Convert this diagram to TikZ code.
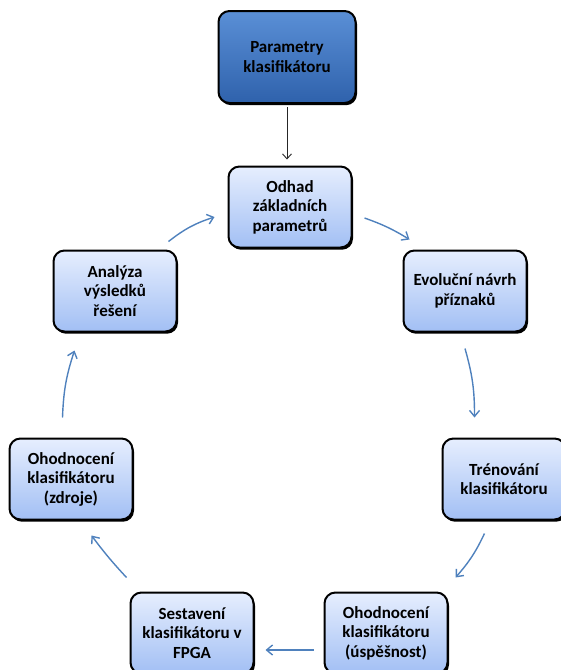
\documentclass[tikz,border=0pt]{standalone}
\usepackage{fontspec}
\setmainfont{Carlito}
\usetikzlibrary{shadows,arrows.meta}
\definecolor{boxtop}{HTML}{E6EEFE}
\definecolor{boxbot}{HTML}{A2BFF4}
\definecolor{darktop}{HTML}{5A8FD6}
\definecolor{darkbot}{HTML}{2F62AC}
\definecolor{flowblue}{HTML}{4F81BD}
\tikzset{
  stepbox/.style={draw=black, line width=2pt, rounded corners=11pt,
    minimum width=123pt, minimum height=81pt, align=center,
    top color=boxtop, bottom color=boxbot,
    general shadow={fill=black, shadow xshift=1.5pt, shadow yshift=-2.2pt},
    font=\fontsize{17pt}{19.5pt}\selectfont\bfseries, inner sep=2pt},
  headbox/.style={stepbox, minimum width=137pt, minimum height=92pt,
    top color=darktop, bottom color=darkbot},
  flow/.style={draw=flowblue, line width=1.4pt, -{Straight Barb[length=6pt,width=10pt]}},
  feed/.style={draw=black!85, line width=0.9pt, -{Straight Barb[length=5pt,width=9pt]}}
}
\begin{document}
\begin{tikzpicture}[x=1pt,y=-1pt]
\useasboundingbox (0,0) rectangle (561,670);
\node[headbox] (par) at (287,57) {Parametry\\klasifikátoru};
\node[stepbox] (odh) at (290,207) {Odhad\\základních\\parametrů};
\node[stepbox] (evo) at (465,291) {Evoluční návrh\\příznaků};
\node[stepbox] (tre) at (504,479) {Trénování\\klasifikátoru};
\node[stepbox] (usp) at (386,633) {Ohodnocení\\klasifikátoru\\(úspěšnost)};
\node[stepbox] (ses) at (192,633) {Sestavení\\klasifikátoru v\\FPGA};
\node[stepbox] (zdr) at (71,479) {Ohodnocení\\klasifikátoru\\(zdroje)};
\node[stepbox] (ana) at (115,291) {Analýza\\výsledků\\řešení};

\draw[feed] ([yshift=-3pt]par.south) -- ([yshift=6pt]par.south |- odh.north);
\draw[flow] ([xshift=-9pt,yshift=8pt]ana.north east) to[bend left=10] ([xshift=-13pt,yshift=-10pt]odh.west);
\draw[flow] ([xshift=12pt,yshift=-11pt]odh.east) to[bend left=6] ([xshift=7pt,yshift=10pt]evo.north west);
\draw[flow] ([yshift=-16pt]evo.south) to[bend left=8] ([xshift=33pt,yshift=20pt]tre.north west);
\draw[flow] ([xshift=43pt,yshift=-13pt]tre.south west) to[bend left=8] ([xshift=7pt,yshift=14pt]usp.north east);
\draw[flow] ([xshift=-10pt,yshift=-17pt]usp.west) -- ([xshift=11pt,yshift=-17pt]ses.east);
\draw[flow] ([xshift=-3pt,yshift=14pt]ses.north west) to[bend left=3] ([xshift=-42pt,yshift=-15pt]zdr.south east);
\draw[flow] ([xshift=54pt,yshift=20pt]zdr.north west) to[bend left=8] ([xshift=22pt,yshift=-18pt]ana.south west);
\end{tikzpicture}
\end{document}
